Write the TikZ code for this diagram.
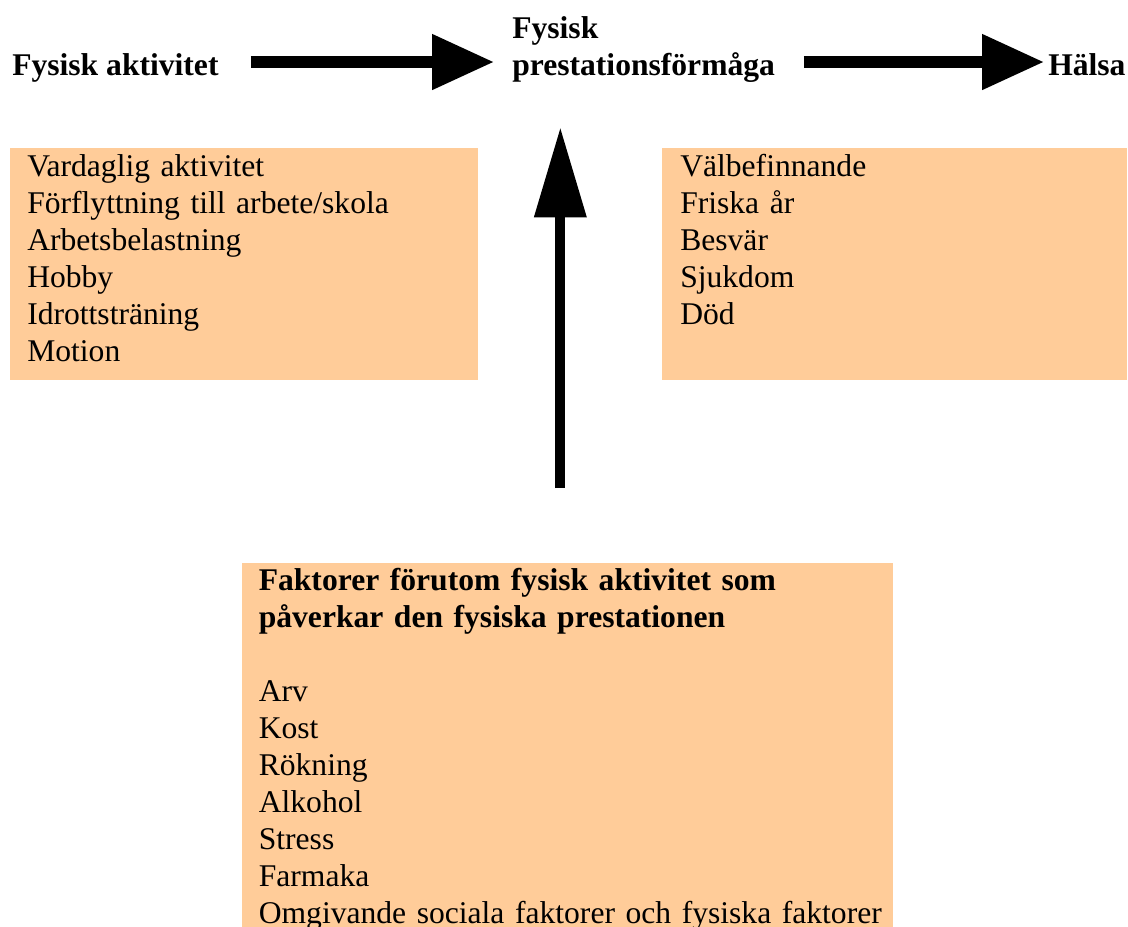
\documentclass[tikz,border=0pt]{standalone}
\usepackage{fontspec}
\setmainfont{Liberation Serif}
\usetikzlibrary{arrows.meta,positioning}
\definecolor{peach}{HTML}{FFCC99}

\tikzset{
	txt/.style={font=\fontsize{23.7}{27.75}\selectfont},
	head/.style={font=\fontsize{23.7}{27.75}\selectfont\bfseries, inner sep=0pt, text height=22pt, text depth=2.5pt, anchor=base west},
	listbox/.style={txt, fill=peach, inner ysep=0pt, align=left, anchor=north west},
	bigarrow/.style={line width=8.5pt, -{Triangle[length=46.5pt,width=39.75pt]}},
	uparrow/.style={line width=7.5pt, -{Triangle[length=67.5pt,width=37.5pt]}}
}

\begin{document}
\begin{tikzpicture}[x=0.75pt, y=-0.75pt]
			\useasboundingbox (0,0) rectangle (1128,926);
			
			% chain along the top
			\node[head] (fa) at (12,75) {Fysisk aktivitet};
			\node[head, text width=202pt, text height=, text depth=, align=left] (fp) at (512,38) {Fysisk\\prestationsförmåga};
			\node[head] (hl) at (1048,75) {Hälsa};
			
			\draw[bigarrow, shorten <=24pt, shorten >=13.5pt] (fa.east) -- (fa.east -| fp.west);
			\draw[bigarrow, shorten <=16.5pt, shorten >=3pt] (hl.west -| fp.east) -- (hl.west);
			
			% boxes
			\node[listbox, inner xsep=12.75pt, text width=325.5pt, text height=21pt, text depth=153pt] (lb) at (10,148)
				{Vardaglig aktivitet\\Förflyttning till arbete/skola\\Arbetsbelastning\\Hobby\\Idrottsträning\\Motion};
			\node[listbox, inner xsep=13.5pt, text width=321.75pt, text height=21pt, text depth=153pt] (rb) at (662,148)
				{Välbefinnande\\Friska år\\Besvär\\Sjukdom\\Död};
			\node[listbox, inner xsep=12.4pt, text width=463.5pt, text height=20.25pt, text depth=255pt] (fb) at (242,563)
				{\textbf{Faktorer förutom fysisk aktivitet som}\\\textbf{påverkar den fysiska prestationen}\\[27.75pt]
				Arv\\Kost\\Rökning\\Alkohol\\Stress\\Farmaka\\\mbox{Omgivande sociala faktorer och fysiska faktorer}};
			
			\draw[uparrow, shorten <=56.25pt, shorten >=33.75pt] ([xshift=-5.6pt]fb.north) -- ([xshift=-5.6pt]fb.north |- fp.south);
		\end{tikzpicture}
\end{document}
